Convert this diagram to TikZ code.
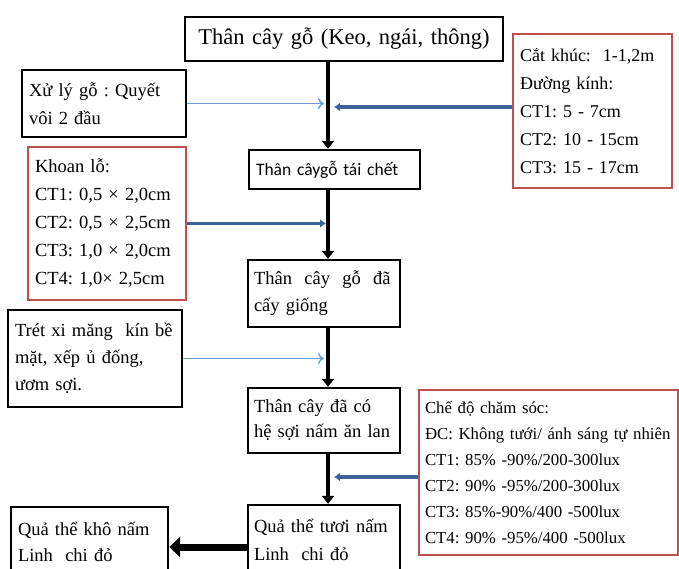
\documentclass[tikz,border=0pt]{standalone}
\usepackage{fontspec}
\setmainfont{Liberation Serif}
\newfontfamily\carlito{Carlito}
\usepackage{xcolor}
\usepackage{tikz}
\usetikzlibrary{arrows.meta,positioning,calc}
\definecolor{boxred}{HTML}{C0504D}
\definecolor{linkblue}{HTML}{3B6598}
\definecolor{paleblue}{HTML}{6E9CD6}

\begin{document}
\frenchspacing
\begin{tikzpicture}[
    x=1pt, y=-1pt,
    mainbox/.style={rectangle, draw, line width=2.4pt, align=left, inner xsep=7pt, inner ysep=0pt, font=\fontsize{18.5}{27}\selectfont},
    notebox/.style={rectangle, draw=boxred, line width=1.5pt, align=left, inner xsep=7pt, inner ysep=0pt, font=\fontsize{18.5}{28}\selectfont},
    flow/.style={-{Triangle[length=8pt,width=12pt]}, line width=4pt},
    thinfeed/.style={-{To[length=6pt,width=11pt]}, paleblue, line width=1.4pt},
    thickfeed/.style={-{Latex[length=6pt,width=9pt]}, linkblue, line width=3.5pt}
]
\useasboundingbox (0,0) rectangle (679,569);

% Main chain
\node[mainbox, align=center, text width=304pt, minimum height=44pt, font=\fontsize{22.5}{28}\selectfont] (tree) at (344,39) {Thân cây gỗ (Keo, ngái, thông)};
\node[mainbox, text width=157pt, minimum height=39pt, font=\carlito\fontsize{17.5}{24}\selectfont] (dead) at (334.5,169.5) {Thân câygỗ tái chết};
\node[mainbox, text width=140pt, inner xsep=6pt, minimum height=67pt] (seeded) at (324,293.5) {Thân~ cây~ gỗ~ đã\\cấy giống};
\node[mainbox, text width=140pt, inner xsep=6pt, minimum height=65pt, font=\fontsize{18.5}{25}\selectfont] (mycel) at (324,420.5) {Thân cây đã có\\hệ sợi nấm ăn lan};
\node[mainbox, text width=140pt, inner xsep=6pt, minimum height=70pt, font=\fontsize{18.5}{28}\selectfont] (fresh) at (324,540) {Quả thể tươi nấm\\Linh~ chi đỏ};
\node[mainbox, text width=143pt, minimum height=70pt, font=\fontsize{18.5}{26}\selectfont] (dry) at (89.5,542) {Quả thể khô nấm\\Linh~ chi đỏ};

% Inputs on the left
\node[mainbox, text width=150pt, minimum height=67pt, font=\fontsize{18.5}{28}\selectfont] (xuly) at (104,103.5) {Xử lý gỗ : Quyết\\vôi 2 đầu};
\node[notebox, text width=144pt, minimum height=153pt] (khoan) at (107,223.5) {Khoan lỗ:\\CT1: 0,5 × 2,0cm\\CT2: 0,5 × 2,5cm\\CT3: 1,0 × 2,0cm\\CT4: 1,0× 2,5cm};
\node[mainbox, text width=160pt, minimum height=97pt] (tret) at (95,358.5) {Trét xi măng~ kín bề\\mặt, xếp ủ đống,\\ươm sợi.};

% Inputs on the right
\node[notebox, text width=145pt, minimum height=154pt, font=\fontsize{18}{28}\selectfont] (catkhuc) at (592.5,111) {Cắt khúc:~ 1-1,2m\\Đường kính:\\CT1: 5 - 7cm\\CT2: 10 - 15cm\\CT3: 15 - 17cm};
\node[notebox, text width=247pt, minimum height=165pt, inner xsep=6pt, font=\fontsize{16.8}{26}\selectfont] (chedo) at (548.5,472.5) {Chế độ chăm sóc:\\ĐC: Không tưới/ ánh sáng tự nhiên\\CT1: 85\% -90\%/200-300lux\\CT2: 90\% -95\%/200-300lux\\CT3: 85\%-90\%/400 -500lux\\CT4: 90\% -95\%/400 -500lux};

% Spine arrows
\coordinate (spine) at (328,0);
\draw[flow] (tree.south -| spine) -- (dead.north -| spine);
\draw[flow] (dead.south -| spine) -- (seeded.north -| spine);
\draw[flow] (seeded.south -| spine) -- (mycel.north -| spine);
\draw[flow] (mycel.south -| spine) -- (fresh.north -| spine);

% Side arrows
\draw[thinfeed] (xuly.east) -- ($(xuly.east -| spine)+(-4,0)$);
\draw[thickfeed] (khoan.east) -- ($(khoan.east -| spine)+(-2,0)$);
\draw[thinfeed] (tret.east) -- ($(tret.east -| spine)+(-4,0)$);
\coordinate (cutin) at ([yshift=4pt]catkhuc.west);
\draw[thickfeed] (cutin) -- ($(cutin -| spine)+(6,0)$);
\coordinate (carein) at ([yshift=-4.5pt]chedo.west);
\draw[thickfeed] (carein) -- ($(carein -| spine)+(6,0)$);

% Drying
\coordinate (harvest) at ([yshift=-7pt]fresh.west);
\draw[line width=7pt, -{Triangle[length=11pt,width=20pt]}] (harvest) -- (harvest -| dry.east);

\end{tikzpicture}
\end{document}
